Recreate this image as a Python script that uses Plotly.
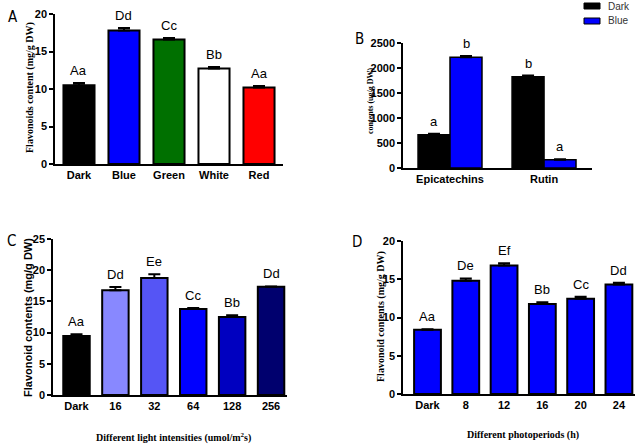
import plotly.graph_objects as go

# ---------------- data ----------------
a_cats = ["Dark", "Blue", "Green", "White", "Red"]
a_vals = [10.5, 17.8, 16.6, 12.75, 10.2]
a_errs = [0.3, 0.35, 0.2, 0.2, 0.2]
a_lbls = ["Aa", "Dd", "Cc", "Bb", "Aa"]
a_cols = ["#000000", "#0000ff", "#007000", "#ffffff", "#ff0000"]

b_cats = ["Epicatechins", "Rutin"]
b_dark = [665, 1825]
b_dark_err = [20, 25]
b_blue = [2215, 165]
b_blue_err = [25, 10]
b_dark_lbls = ["a", "b"]
b_blue_lbls = ["b", "a"]

c_cats = ["Dark", "16", "32", "64", "128", "256"]
c_vals = [9.45, 16.8, 18.75, 13.8, 12.5, 17.35]
c_errs = [0.3, 0.5, 0.6, 0.15, 0.3, 0.05]
c_lbls = ["Aa", "Dd", "Ee", "Cc", "Bb", "Dd"]
c_cols = ["#000000", "#8888ff", "#5555f5", "#0000ff", "#0000c0", "#00006e"]

d_cats = ["Dark", "8", "12", "16", "20", "24"]
d_vals = [8.4, 14.8, 16.8, 11.75, 12.45, 14.3]
d_errs = [0.05, 0.3, 0.3, 0.25, 0.25, 0.25]
d_lbls = ["Aa", "De", "Ef", "Bb", "Cc", "Dd"]
d_col = "#0000ff"

W, H = 642, 445
def px_x(x): return x / W
def px_y(y): return 1 - y / H

fig = go.Figure()

SANS = "Liberation Sans, Arial, sans-serif"
SERIF = "Liberation Serif, Times New Roman, serif"
NARROW = "Liberation Sans Narrow, DejaVu Sans Condensed, Arial Narrow, sans-serif"

def err(arr):
    return dict(type="data", array=arr, symmetric=False, arrayminus=[0]*len(arr),
                color="black", thickness=2, width=6)

# Panel A
fig.add_trace(go.Bar(x=a_cats, y=a_vals, error_y=err(a_errs), marker=dict(color=a_cols, line=dict(color="black", width=2)),
                     xaxis="x", yaxis="y", width=0.69, showlegend=False))
# Panel B
fig.add_trace(go.Bar(x=b_cats, y=b_dark, error_y=err(b_dark_err), marker=dict(color="#000000", line=dict(color="black", width=1.5)),
                     name="Dark", xaxis="x2", yaxis="y2", offsetgroup="d", showlegend=False))
fig.add_trace(go.Bar(x=b_cats, y=b_blue, error_y=err(b_blue_err), marker=dict(color="#0000ff", line=dict(color="black", width=1.5)),
                     name="Blue", xaxis="x2", yaxis="y2", offsetgroup="b", showlegend=False))
# Panel C
fig.add_trace(go.Bar(x=c_cats, y=c_vals, error_y=err(c_errs), marker=dict(color=c_cols, line=dict(color="black", width=2)),
                     xaxis="x3", yaxis="y3", width=0.68, showlegend=False))
# Panel D
fig.add_trace(go.Bar(x=d_cats, y=d_vals, error_y=err(d_errs), marker=dict(color=d_col, line=dict(color="black", width=2)),
                     xaxis="x4", yaxis="y4", width=0.70, showlegend=False))

tickf = dict(family=SANS, size=11, color="black", weight="bold")
def yax(dom, rng, dt):
    return dict(domain=dom, range=rng, dtick=dt, showline=True, linecolor="black", linewidth=1.5,
                ticks="outside", ticklen=4, tickwidth=1.5, tickcolor="black", showgrid=False,
                zeroline=False, tickfont=tickf, fixedrange=True, automargin=False)
def xax(dom, rng, anchor):
    return dict(domain=dom, range=rng, anchor=anchor, showline=True, linecolor="black", linewidth=1.5,
                ticks="", showgrid=False, zeroline=False, tickfont=tickf, type="category",
                fixedrange=True, automargin=False)

fig.update_layout(
    width=W, height=H, margin=dict(l=0, r=0, t=0, b=0, pad=0),
    paper_bgcolor="white", plot_bgcolor="white",
    barmode="group", bargap=0.32, bargroupgap=0,
    xaxis=xax([px_x(55), px_x(283)], [-0.533, 4.533], "y"),
    yaxis=yax([px_y(164), px_y(14)], [0, 20], 5) | dict(anchor="x"),
    xaxis2=xax([px_x(403), px_x(592)], [-0.5, 1.51], "y2"),
    yaxis2=yax([px_y(168), px_y(43)], [0, 2500], 500) | dict(anchor="x2"),
    xaxis3=xax([px_x(53), px_x(287)], [-0.604, 5.41], "y3"),
    yaxis3=yax([px_y(395), px_y(239)], [0, 25], 5) | dict(anchor="x3"),
    xaxis4=xax([px_x(403), px_x(635)], [-0.64, 5.42], "y4"),
    yaxis4=yax([px_y(394), px_y(241)], [0, 20], 5) | dict(anchor="x4"),
)

ann = []
lblf = dict(family=SANS, size=13, color="black")
def add_lbls(vals, errs, lbls, xr, yr, xshift=0):
    for i, (v, e, l) in enumerate(zip(vals, errs, lbls)):
        ann.append(dict(x=i, y=v + e, xref=xr, yref=yr, text=l, showarrow=False,
                        xanchor="center", yanchor="bottom", yshift=3, xshift=xshift, font=lblf))
add_lbls(a_vals, a_errs, a_lbls, "x", "y")
add_lbls(b_dark, b_dark_err, b_dark_lbls, "x2", "y2", xshift=-16)
add_lbls(b_blue, b_blue_err, b_blue_lbls, "x2", "y2", xshift=16)
add_lbls(c_vals, c_errs, c_lbls, "x3", "y3")
add_lbls(d_vals, d_errs, d_lbls, "x4", "y4")

def pann(text, x, y, font, angle=0, xanchor="center"):
    ann.append(dict(x=px_x(x), y=px_y(y), xref="paper", yref="paper", text=text, showarrow=False,
                    textangle=angle, xanchor=xanchor, yanchor="middle", font=font))

# panel letters
for t, x, y in [("A", 13, 17), ("B", 359, 39), ("C", 12, 241), ("D", 357, 242)]:
    pann(t, x, y, dict(family=NARROW, size=15, color="black"))

# axis titles
pann("Flavonoids content (mg/g DW)", 30, 88, dict(family=SERIF, size=10, color="black", weight="bold"), -90)
pann("contents (ug/g DW)", 370, 100, dict(family=SERIF, size=8, color="black", weight="bold"), -90)
pann("Flavonoid contents (mg/g DW)", 28, 318, dict(family=SANS, size=11, color="black", weight="bold"), -90)
pann("Flavonoid contents (mg/g DW)", 381, 317, dict(family=SERIF, size=10, color="black", weight="bold"), -90)
pann("Different light intensities (umol/m<sup>2</sup>s)", 174, 437, dict(family=SERIF, size=10, color="black", weight="bold"))
pann("Different photoperiods (h)", 523, 435, dict(family=SERIF, size=10, color="black", weight="bold"))

# legend for panel B
shapes = []
for name, col, y in [("Dark", "#000000", 6), ("Blue", "#0000ff", 21)]:
    shapes.append(dict(type="rect", xref="paper", yref="paper", x0=px_x(584), x1=px_x(600),
                       y0=px_y(y + 3), y1=px_y(y - 3), fillcolor=col, line=dict(color="black", width=1)))
    pann(name, 606, y, dict(family=SANS, size=10, color="#333333"), xanchor="left")

fig.update_layout(annotations=ann, shapes=shapes)
fig.write_html("out.html", config={"displayModeBar": False},
               post_script="document.body.style.margin='0';document.body.style.overflow='hidden';")
